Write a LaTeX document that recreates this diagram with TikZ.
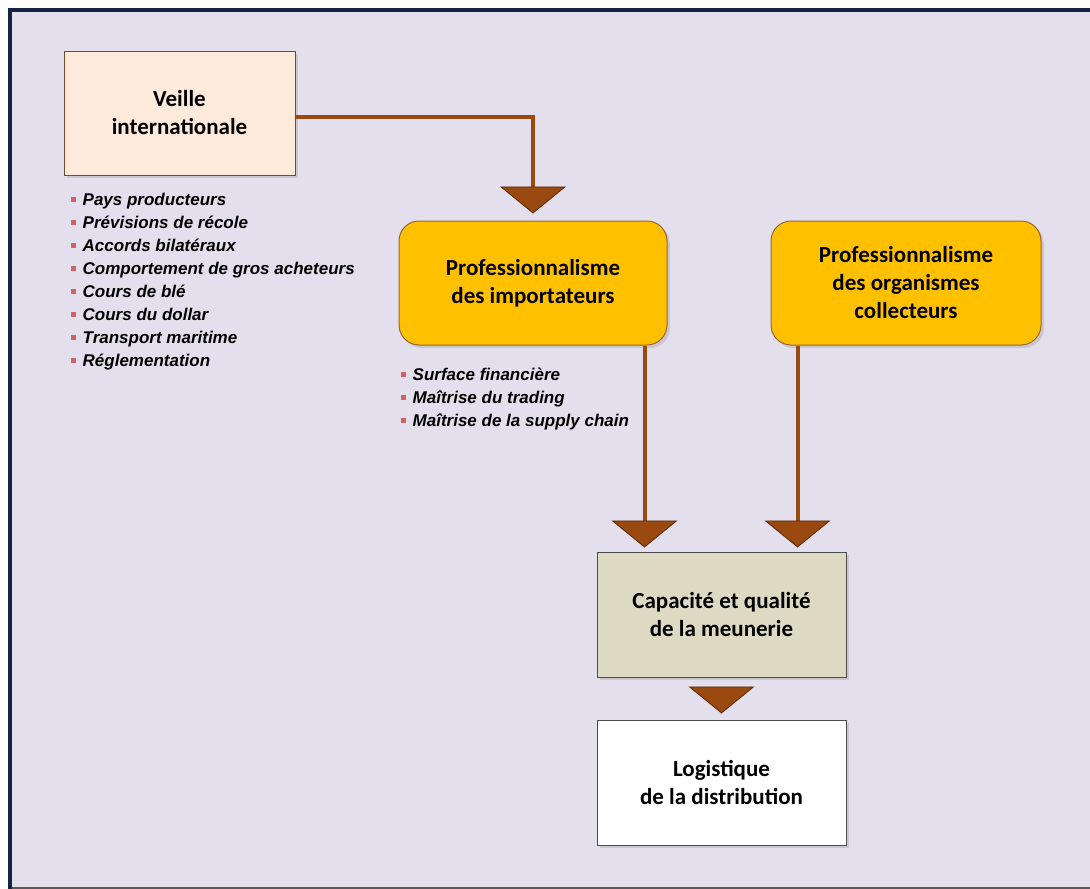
\documentclass[tikz,border=0pt]{standalone}
\usepackage{fontspec}
\setmainfont{Carlito}
\newfontfamily\listfont{Liberation Sans}
\usetikzlibrary{positioning,arrows.meta,shadows}

\definecolor{bgpurple}{HTML}{E4DFEC}
\definecolor{framenavy}{HTML}{13253F}
\definecolor{peach}{HTML}{FDEADA}
\definecolor{gold}{HTML}{FFC000}
\definecolor{khaki}{HTML}{DDD9C3}
\definecolor{rust}{HTML}{9A4A10}
\definecolor{bulletred}{HTML}{D2625F}

\newcommand\bul{\textcolor{bulletred}{\rule[3.5pt]{5.5pt}{5pt}}\hspace{6.5pt}}

\begin{document}
\begin{tikzpicture}[
				x=1pt, y=-1pt,
				box/.style={draw=#1, line width=1pt, align=center, inner sep=0pt,
					font=\bfseries\fontsize{23}{28}\selectfont,
					drop shadow={opacity=0.25, shadow xshift=3pt, shadow yshift=-3pt}},
				items/.style={align=left, inner sep=0pt,
					font=\listfont\bfseries\itshape\fontsize{17}{23}\selectfont},
				link/.style={draw=rust, line width=4pt},
				tri/.style={-{Triangle[width=66pt, length=27pt, line width=0.8pt, color=rust!55!black, fill=rust]}},
				]
				\useasboundingbox (0,0) rectangle (1090,889);
				% frame
				\fill[white] (0,0) rectangle (1090,889);
				\fill[bgpurple] (8,8) rectangle (1090,889);
				\fill[framenavy] (8,8) rectangle (1090,11.5);
				\fill[framenavy] (8,8) rectangle (11.5,889);
				\fill[black!65] (11.5,887) rectangle (1090,889);
				% boxes
				\node[box=brown!60!black, fill=peach, minimum width=231pt, minimum height=124pt] (veille) at (179.5,113) {Veille\\internationale};
				\node[box=brown!80!black, fill=gold, rounded corners=20pt, minimum width=268pt, minimum height=124pt] (imp) at (533,283) {Professionnalisme\\des importateurs};
				\node[box=brown!80!black, fill=gold, rounded corners=20pt, minimum width=270pt, minimum height=124pt] (col) at (906,283) {Professionnalisme\\des organismes\\collecteurs};
				\node[box=black!70, fill=khaki, minimum width=249pt, minimum height=125pt] (cap) at (721.5,614.5) {Capacité et qualité\\de la meunerie};
				\node[box=black!70, fill=white, minimum width=249pt, minimum height=125pt] (log) at (721.5,782.5) {Logistique\\de la distribution};
				% lists
				\node[items, anchor=north west] (veilleitems) at ([xshift=7pt, yshift=-17pt]veille.south west) {\bul Pays producteurs\\\bul Prévisions de récole\\\bul Accords bilatéraux\\\bul Comportement de gros acheteurs\\\bul Cours de blé\\\bul Cours du dollar\\\bul Transport maritime\\\bul Réglementation};
				\node[items, anchor=north west] (impitems) at ([xshift=2pt, yshift=-22pt]imp.south west) {\bul Surface financière\\\bul Maîtrise du trading\\\bul Maîtrise de la supply chain};
				% connectors
				\coordinate (capin1) at ([xshift=48pt]cap.north west);
				\coordinate (capin2) at ([xshift=-49pt]cap.north east);
				\draw[link, tri, shorten >=7pt] ([yshift=-4pt]veille.east) -| (imp.north);
				\draw[link, tri, shorten >=4pt] (imp.south -| capin1) -- (capin1);
				\draw[link, tri, shorten >=4pt] (col.south -| capin2) -- (capin2);
				\draw[link, tri, shorten <=10pt, shorten >=6pt] (cap.south) -- (log.north);
\end{tikzpicture}
\end{document}
